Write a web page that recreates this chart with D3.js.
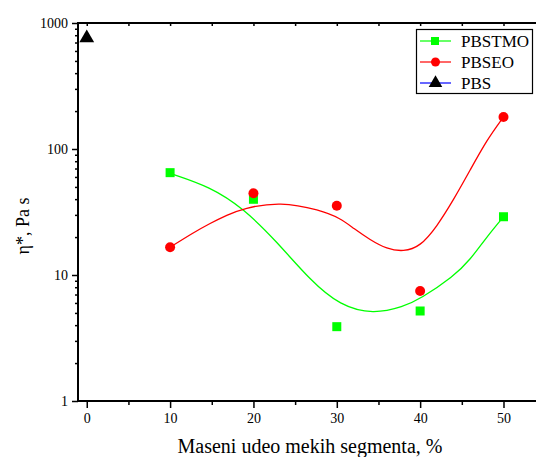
<!DOCTYPE html>
<html><head><meta charset="utf-8">
<script src="https://cdn.jsdelivr.net/npm/d3@7"></script>
<style>body{margin:0;background:#fff}svg{display:block} text{font-family:"Liberation Serif","Times New Roman",Times,serif}</style>
</head><body>
<svg id="c" width="536" height="457"></svg>
<script>
// ---- data ----
const categories = [10, 20, 30, 40, 50];
const pbstmo = [64.9, 39.9, 3.89, 5.18, 29.0];
const pbseo = [16.6, 44.5, 35.5, 7.46, 179.5];
const pbsX = [0];
const pbs = [760];
// fitted curves
const fitTmoX = [10, 14.8, 18.8, 22.8, 26.8, 30.4, 34.4, 38, 40, 44, 46, 48, 50];
const fitTmoY = [64.1, 50.2, 33.8, 18.4, 9.1, 5.7, 4.88, 5.6, 6.45, 9.7, 13.2, 20.1, 29.0];
const fitEoX = [10, 12.8, 14.8, 16.8, 18.8, 23.2, 28, 30.4, 32, 34, 36, 38, 40, 42, 44, 46, 48, 50];
const fitEoY = [16.6, 21.7, 25.7, 29.9, 33.8, 38.3, 32.8, 28.2, 23.5, 19.0, 16.1, 15.3, 16.8, 24.2, 39.4, 68, 118, 179.5];
const xTicks = [0, 10, 20, 30, 40, 50];
const xMinor = [5, 15, 25, 35, 45];
const yTicks = [1, 10, 100, 1000];
const legendLabels = ["PBSTMO", "PBSEO", "PBS"];

const svg = d3.select("#c");
const font = "Liberation Serif";
const x = d3.scaleLinear().domain([-1.05, 53.9]).range([78, 536]);
const y = d3.scaleLog().domain([1, 1000]).range([401, 23]);

const yMinor = [];
[1, 10, 100].forEach(d => { for (let k = 2; k <= 9; k++) yMinor.push(d * k); });

// axes
const gx = svg.append("g").attr("transform", "translate(0,401)")
  .call(d3.axisBottom(x).tickValues(xTicks).tickSize(7).tickPadding(5).tickFormat(d3.format("d")));
const gxm = svg.append("g").attr("transform", "translate(0,401)")
  .call(d3.axisBottom(x).tickValues(xMinor).tickSize(4).tickFormat(""));
gxm.select(".domain").remove();
const gt = svg.append("g").attr("transform", "translate(0,23)")
  .call(d3.axisBottom(x).tickValues(xTicks.concat(xMinor)).tickSize(3).tickFormat(""));
const gy = svg.append("g").attr("transform", "translate(78,0)")
  .call(d3.axisLeft(y).tickValues(yTicks).tickSize(6).tickPadding(4).tickFormat(d3.format("d")));
const gym = svg.append("g").attr("transform", "translate(78,0)")
  .call(d3.axisLeft(y).tickValues(yMinor).tickSize(3).tickFormat(""));
gym.select(".domain").remove();

svg.selectAll("g").attr("font-family", null);
svg.selectAll(".domain").attr("stroke", "#000").attr("stroke-width", 2);
gx.select(".domain").attr("d", `M${x.range()[0]},0H${x.range()[1]}`);
gt.select(".domain").attr("d", `M${x.range()[0]},0H${x.range()[1]}`);
gy.select(".domain").attr("d", `M0,${y.range()[0] + 1}V${y.range()[1] - 1}`);
svg.selectAll(".tick line").attr("stroke", "#000").attr("stroke-width", 1.5);
svg.selectAll(".tick text").style("font-family", font).attr("font-size", 14).attr("fill", "#000");

// fitted curves
const line = d3.line().x(d => x(d[0])).y(d => y(d[1])).curve(d3.curveBasis);
svg.append("path").datum(fitTmoX.map((v, i) => [v, fitTmoY[i]]))
  .attr("d", line).attr("fill", "none").attr("stroke", "#00ff00").attr("stroke-width", 1.3);
svg.append("path").datum(fitEoX.map((v, i) => [v, fitEoY[i]]))
  .attr("d", line).attr("fill", "none").attr("stroke", "#ff0000").attr("stroke-width", 1.3);

// markers
svg.append("g").selectAll("rect").data(categories.map((c, i) => [c, pbstmo[i]])).join("rect")
  .attr("x", d => x(d[0]) - 4.5).attr("y", d => y(d[1]) - 4.5).attr("width", 9).attr("height", 9)
  .attr("fill", "#00ff00");
svg.append("g").selectAll("circle").data(categories.map((c, i) => [c, pbseo[i]])).join("circle")
  .attr("cx", d => x(d[0])).attr("cy", d => y(d[1])).attr("r", 5).attr("fill", "#ff0000");
const tri = d3.symbol().type(d3.symbolTriangle).size(95);
svg.append("g").selectAll("path").data(pbsX.map((c, i) => [c, pbs[i]])).join("path")
  .attr("d", tri).attr("transform", d => `translate(${x(d[0])},${y(d[1])})`).attr("fill", "#000");

// legend
const lg = svg.append("g");
lg.append("rect").attr("x", 416.5).attr("y", 29.5).attr("width", 116).attr("height", 64)
  .attr("fill", "#fff").attr("stroke", "#000").attr("stroke-width", 1.2);
const lcol = ["#00ff00", "#ff0000", "#0000ff"];
legendLabels.forEach((t, i) => {
  const yy = 41 + i * 21;
  lg.append("line").attr("x1", 420).attr("x2", 451).attr("y1", yy).attr("y2", yy)
    .attr("stroke", lcol[i]).attr("stroke-width", 1.2);
  if (i === 0) lg.append("rect").attr("x", 431).attr("y", yy - 4).attr("width", 8).attr("height", 8).attr("fill", "#00ff00");
  if (i === 1) lg.append("circle").attr("cx", 435.5).attr("cy", yy).attr("r", 4.5).attr("fill", "#ff0000");
  if (i === 2) lg.append("path").attr("d", d3.symbol().type(d3.symbolTriangle).size(80))
    .attr("transform", `translate(435.5,${yy})`).attr("fill", "#000");
  lg.append("text").attr("x", 461).attr("y", yy + 6).style("font-family", font).attr("font-size", 17)
    .attr("fill", "#000").text(t);
});

// axis titles
svg.append("text").attr("x", 310).attr("y", 453).attr("text-anchor", "middle")
  .style("font-family", font).attr("font-size", 20).attr("fill", "#000")
  .text("Maseni udeo mekih segmenta, %");
svg.append("text").attr("transform", "translate(29,226) rotate(-90)").attr("text-anchor", "middle")
  .style("font-family", font).attr("font-size", 18).attr("fill", "#000")
  .text("η*, Pa s");
</script>
</body></html>
